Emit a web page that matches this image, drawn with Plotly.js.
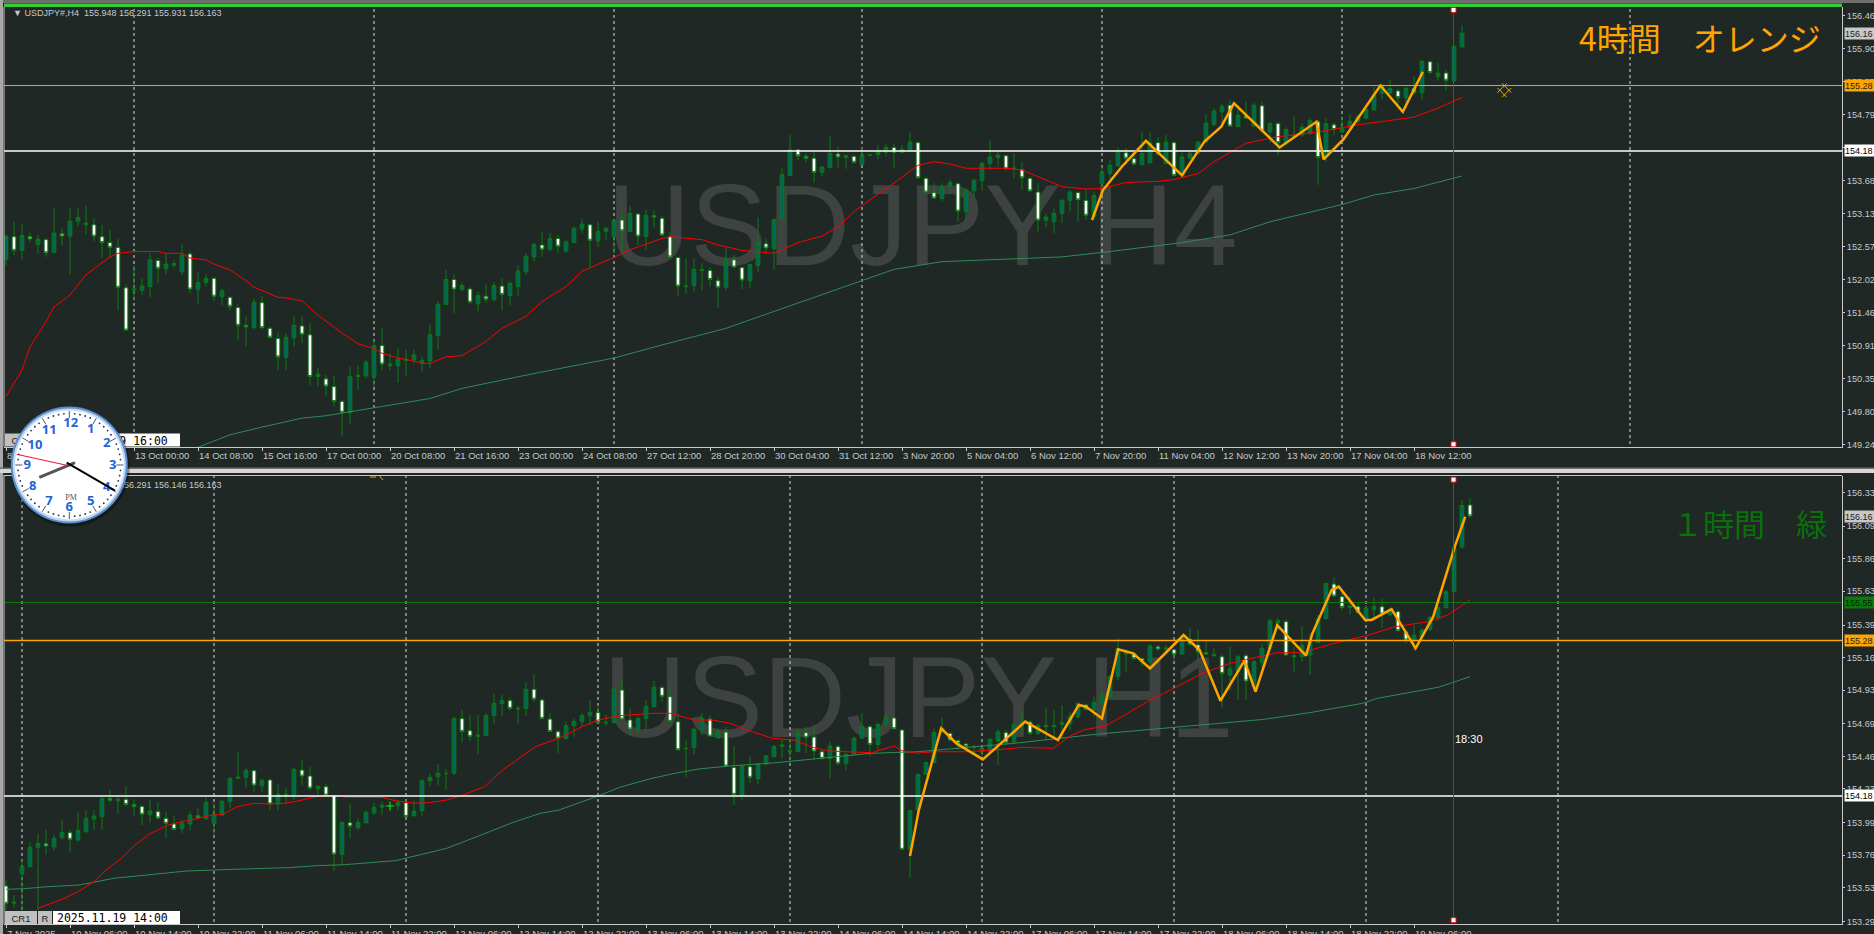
<!DOCTYPE html>
<html><head><meta charset="utf-8">
<script src="https://cdn.plot.ly/plotly-3.0.1.min.js"></script>
<style>html,body{margin:0;padding:0;background:#1f2824;overflow:hidden}#c{width:1874px;height:934px}</style>
</head><body><div id="c"></div>
<script>
const h4Open=[152.36,152.74,152.51,152.74,152.61,152.69,152.48,152.79,152.75,153.00,
152.94,152.94,152.74,152.64,152.56,151.88,151.84,151.84,151.90,152.34,
152.20,152.26,152.15,152.45,151.85,151.97,152.04,151.73,151.72,151.55,
151.25,151.21,151.63,151.20,151.03,150.71,151.04,151.24,151.09,150.39,
150.35,150.22,149.97,149.78,150.39,150.40,150.38,150.91,150.57,150.57,
150.66,150.67,150.61,150.65,151.08,151.60,152.02,151.85,151.86,151.61,
151.74,151.68,151.91,151.75,151.90,152.15,152.40,152.60,152.53,152.71,
152.50,152.64,152.87,152.94,152.67,152.83,152.74,153.02,152.83,153.12,
152.74,153.09,153.05,152.74,152.39,151.90,151.92,152.17,152.17,152.00,
151.89,152.35,152.22,152.00,152.25,152.62,152.54,153.03,153.77,154.20,
154.09,154.06,153.82,153.90,154.13,154.07,154.09,153.95,154.11,154.12,
154.16,154.24,154.16,154.19,154.32,153.72,153.48,153.38,153.59,153.63,
153.16,153.51,153.68,153.97,154.07,154.10,153.88,153.87,153.72,153.49,
153.01,152.99,153.13,153.35,153.48,153.35,153.08,153.63,153.80,153.93,
154.15,154.05,153.95,153.98,154.32,153.97,154.32,153.78,154.06,154.14,
154.33,154.63,154.84,154.95,154.59,154.77,154.60,154.94,154.50,154.64,
154.32,154.42,154.45,154.48,154.67,154.09,154.62,154.50,154.58,154.68,
154.73,154.87,155.15,155.15,155.19,155.08,155.23,155.16,155.68,155.43,
155.49,155.36,155.93];
const h4Close=[152.75,152.51,152.76,152.70,152.70,152.47,152.80,152.75,153.00,153.06,
152.97,152.75,152.64,152.56,151.89,151.17,151.86,151.91,152.35,152.21,
152.28,152.29,152.43,151.86,151.97,152.04,151.74,151.83,151.57,151.25,
151.22,151.64,151.21,151.05,150.72,151.05,151.25,151.10,150.39,150.43,
150.23,149.97,149.79,150.39,150.41,150.63,150.91,150.60,150.60,150.68,
150.68,150.75,150.66,151.09,151.60,152.02,151.86,151.92,151.64,151.75,
151.69,151.92,151.77,151.96,152.16,152.41,152.61,152.53,152.71,152.58,
152.65,152.88,152.95,152.68,152.83,152.88,153.01,152.84,153.13,152.75,
153.10,153.07,152.77,152.40,151.91,151.91,152.19,152.19,152.02,151.89,
152.36,152.23,152.01,152.27,152.64,152.55,153.03,153.78,154.20,154.10,
154.06,153.82,153.91,154.14,154.08,154.10,153.99,154.11,154.12,154.16,
154.24,154.16,154.21,154.33,153.73,153.49,153.39,153.58,153.65,153.17,
153.51,153.69,153.97,154.08,154.11,153.88,153.89,153.73,153.51,153.02,
153.07,153.13,153.35,153.49,153.36,153.10,153.43,153.82,153.94,154.15,
154.06,153.96,154.14,154.32,154.13,154.33,153.77,154.08,154.14,154.33,
154.65,154.85,154.93,154.60,154.78,154.73,154.95,154.52,154.64,154.32,
154.54,154.45,154.58,154.69,154.07,154.64,154.54,154.58,154.68,154.76,
154.88,155.12,155.29,155.23,155.08,155.23,155.16,155.69,155.50,155.49,
155.37,155.94,156.16];
const h4High=[152.75,153.00,152.95,152.81,152.77,152.72,153.22,152.88,153.22,153.23,
153.27,153.05,152.94,152.85,152.71,151.94,152.26,152.04,152.46,152.38,
152.45,152.35,152.61,152.49,152.14,152.12,152.06,151.87,151.74,151.60,
151.41,151.70,151.74,151.23,151.13,151.12,151.40,151.41,151.28,150.53,
150.42,150.40,150.00,150.56,150.58,150.67,151.00,151.20,150.78,150.86,
150.85,150.84,150.72,151.26,151.66,152.18,152.12,151.97,151.89,151.82,
151.94,151.98,152.04,151.97,152.26,152.46,152.64,152.81,152.80,152.77,
152.68,152.92,153.05,152.96,152.99,152.91,153.03,153.19,153.26,153.14,
153.20,153.19,153.08,152.81,152.40,152.38,152.38,152.29,152.22,152.06,
152.54,152.43,152.24,152.29,153.07,152.71,153.03,153.89,154.45,154.21,
154.14,154.17,153.92,154.42,154.25,154.12,154.11,154.25,154.13,154.28,
154.30,154.30,154.28,154.49,154.35,153.75,153.64,153.64,153.70,153.65,
153.55,153.72,154.00,154.37,154.17,154.11,154.14,154.00,153.75,153.64,
153.13,153.22,153.37,153.52,153.50,153.52,153.50,153.91,154.03,154.24,
154.23,154.14,154.51,154.49,154.41,154.45,154.35,154.15,154.17,154.34,
154.79,154.90,154.98,155.05,154.95,155.01,154.99,155.01,154.67,154.67,
154.58,154.76,154.64,154.73,154.71,154.73,154.66,154.76,154.79,154.79,
154.91,155.26,155.29,155.37,155.23,155.26,155.44,155.70,155.70,155.66,
155.54,155.95,156.29];
const h4Low=[152.26,152.43,152.36,152.64,152.46,152.40,152.46,152.60,152.11,152.91,
152.77,152.66,152.38,152.38,151.50,151.17,151.68,151.76,151.72,151.96,
152.10,152.21,152.10,151.78,151.60,151.90,151.66,151.59,151.50,150.99,
150.89,151.18,151.18,151.03,150.50,150.50,150.89,150.95,150.24,150.22,
150.05,149.88,149.38,149.60,150.16,150.36,150.22,150.50,150.49,150.28,
150.40,150.61,150.47,150.53,150.85,151.59,151.45,151.82,151.61,151.48,
151.62,151.65,151.50,151.59,151.73,152.10,152.32,152.40,152.49,152.46,
152.46,152.64,152.80,152.21,152.57,152.68,152.46,152.46,152.82,152.60,
152.52,152.88,152.75,152.40,151.74,151.78,151.82,151.84,151.90,151.54,
151.84,152.21,151.86,151.87,152.15,152.46,152.18,153.02,153.77,154.02,
153.98,153.64,153.75,153.89,153.89,153.88,153.97,153.95,154.10,154.04,
154.09,153.90,154.14,154.19,153.72,153.47,153.38,153.33,153.58,152.98,
153.02,153.41,153.52,153.86,153.92,153.86,153.72,153.52,153.50,152.82,
152.90,152.80,152.97,153.16,152.99,153.02,153.02,153.47,153.64,153.93,
153.95,153.95,153.93,153.97,154.09,153.96,153.75,153.77,154.05,154.14,
154.32,154.59,154.59,154.59,154.58,154.72,154.59,154.50,154.32,154.11,
154.28,154.39,154.42,154.45,153.61,154.00,154.45,154.48,154.53,154.64,
154.71,154.86,155.05,155.14,154.91,154.90,155.12,155.04,155.47,155.36,
155.19,155.35,155.92];

const h4RedX=[0,2,3,5,6,8,10,12,13,14,16,19,20,22,23,25,26,28,30,31,34,35,37,39,42,44,46,47,49,51,52,53,55,57,60,62,65,67,70,72,76,78,82,83,87,89,90,92,96,97,99,102,104,106,108,111,114,116,118,120,125,127,129,132,135,137,140,144,146,149,151,155,159,164,169,173,176,179,182];
const h4RedY=[150.05,150.50,150.89,151.31,151.56,151.76,152.10,152.29,152.40,152.46,152.49,152.49,152.46,152.46,152.38,152.35,152.28,152.18,152.00,151.89,151.72,151.71,151.66,151.42,151.12,150.94,150.86,150.78,150.70,150.65,150.61,150.61,150.72,150.74,150.98,151.20,151.40,151.65,151.90,152.16,152.39,152.52,152.71,152.74,152.69,152.60,152.57,152.51,152.46,152.52,152.64,152.75,152.91,153.16,153.36,153.64,153.94,154.00,153.96,153.89,153.89,153.86,153.75,153.58,153.54,153.55,153.65,153.67,153.70,153.80,154.00,154.31,154.42,154.50,154.62,154.70,154.75,154.90,155.08];
const h4GreenX=[24,28,32,37,40,46,53,57,66,76,82,90,111,117,132,138,147,153,158,167,171,176,182];
const h4GreenY=[149.20,149.41,149.54,149.69,149.73,149.86,150.02,150.19,150.44,150.70,150.92,151.20,152.19,152.32,152.40,152.49,152.64,152.77,152.99,153.28,153.44,153.55,153.76];
const h4ZigX=[135.75,137.1,139.5,142.5,147,149.8,151.9,153.5,159.2,163.8,164.7,167.2,171.8,174.6,177.1];
const h4ZigY=[153.02,153.52,153.92,154.35,153.77,154.34,154.59,154.98,154.24,154.67,154.04,154.38,155.28,154.84,155.51];

const h1Open=[153.542,153.42,153.627,153.679,153.816,153.842,153.82,153.884,153.92,153.868,
153.927,154.017,154.033,154.163,154.146,154.156,154.12,154.106,154.047,154.069,
154.021,153.981,153.948,153.981,154.04,154.021,153.986,154.045,154.14,154.305,
154.31,154.359,154.253,154.293,154.123,154.18,154.184,154.363,154.321,154.231,
154.245,154.182,153.767,153.99,153.955,153.99,154.061,154.10,154.108,154.111,
154.132,154.04,154.076,154.288,154.316,154.338,154.34,154.727,154.642,154.602,
154.609,154.75,154.835,154.855,154.795,154.80,154.935,154.859,154.724,154.635,
154.585,154.677,154.708,154.75,154.77,154.696,154.699,154.93,154.718,154.652,
154.727,154.812,154.947,154.883,154.705,154.515,154.522,154.652,154.724,154.592,
154.632,154.382,154.187,154.387,154.302,154.406,154.458,154.531,154.493,154.493,
154.628,154.597,154.493,154.444,154.529,154.411,154.475,154.59,154.67,154.545,
154.687,154.732,154.647,153.802,154.08,154.333,154.416,154.633,154.623,154.571,
154.548,154.524,154.493,154.493,154.571,154.628,154.562,154.687,154.703,154.623,
154.67,154.67,154.687,154.694,154.741,154.824,154.788,154.836,154.883,155.024,
155.185,155.19,155.152,155.131,155.237,155.218,155.216,155.185,155.291,155.249,
155.194,155.18,155.166,155.036,155.06,155.173,154.954,155.124,155.225,155.407,
155.414,155.173,155.166,155.178,155.265,155.435,155.68,155.591,155.515,155.52,
155.43,155.501,155.52,155.463,155.485,155.343,155.279,155.308,155.36,155.444,
155.513,155.626,155.942,156.24];
const h1Close=[153.42,153.427,153.679,153.816,153.844,153.825,153.88,153.922,153.873,153.936,
154.021,154.038,154.163,154.149,154.156,154.12,154.106,154.05,154.073,154.024,
153.986,153.943,153.988,154.045,154.026,154.135,154.052,154.142,154.305,154.312,
154.361,154.257,154.29,154.123,154.191,154.191,154.368,154.321,154.236,154.248,
154.186,153.769,153.993,153.965,153.993,154.064,154.10,154.113,154.109,154.132,
154.035,154.071,154.288,154.312,154.34,154.34,154.729,154.637,154.602,154.611,
154.75,154.835,154.857,154.80,154.80,154.935,154.866,154.729,154.637,154.59,
154.677,154.708,154.75,154.772,154.699,154.701,154.935,154.724,154.654,154.729,
154.814,154.949,154.885,154.708,154.507,154.517,154.652,154.729,154.604,154.637,
154.392,154.191,154.392,154.312,154.406,154.463,154.531,154.541,154.503,154.623,
154.595,154.498,154.446,154.534,154.411,154.475,154.588,154.67,154.545,154.687,
154.736,154.656,153.802,154.076,154.333,154.416,154.63,154.659,154.576,154.552,
154.529,154.529,154.517,154.581,154.633,154.557,154.687,154.701,154.623,154.68,
154.68,154.68,154.699,154.741,154.836,154.793,154.843,154.888,155.024,155.223,
155.194,155.154,155.131,155.242,155.22,155.227,155.183,155.296,155.253,155.201,
155.185,155.173,155.048,155.079,155.166,154.994,155.131,155.225,155.419,155.421,
155.178,155.166,155.249,155.272,155.437,155.685,155.596,155.515,155.525,155.478,
155.508,155.52,155.468,155.501,155.35,155.284,155.319,155.355,155.444,155.515,
155.626,155.94,156.237,156.163];
const h1High=[153.582,153.478,153.736,153.856,153.913,153.943,153.903,154.014,153.939,154.069,
154.08,154.08,154.168,154.222,154.18,154.245,154.156,154.116,154.156,154.132,
154.069,154.04,154.014,154.069,154.092,154.17,154.128,154.151,154.312,154.489,
154.375,154.368,154.305,154.305,154.262,154.241,154.382,154.434,154.387,154.257,
154.264,154.186,153.998,154.128,154.021,154.08,154.135,154.14,154.137,154.146,
154.14,154.146,154.298,154.34,154.406,154.37,154.741,154.788,154.753,154.753,
154.765,154.902,154.895,154.878,154.817,154.984,155.043,154.871,154.765,154.647,
154.705,154.729,154.765,154.859,154.812,154.753,154.953,155.013,154.80,154.741,
154.859,154.994,154.965,154.953,154.765,154.58,154.666,154.765,154.753,154.658,
154.67,154.529,154.399,154.458,154.416,154.47,154.541,154.581,154.576,154.666,
154.67,154.682,154.505,154.564,154.541,154.482,154.60,154.765,154.682,154.694,
154.765,154.741,154.652,154.08,154.34,154.423,154.659,154.736,154.628,154.581,
154.557,154.541,154.524,154.588,154.652,154.647,154.694,154.777,154.718,154.694,
154.807,154.788,154.824,154.777,154.84,154.836,154.883,154.93,155.036,155.296,
155.218,155.199,155.161,155.256,155.249,155.249,155.225,155.319,155.374,155.355,
155.284,155.225,155.185,155.237,155.178,155.19,155.142,155.26,155.437,155.442,
155.43,155.237,155.378,155.331,155.461,155.69,155.728,155.626,155.591,155.544,
155.532,155.586,155.577,155.515,155.496,155.355,155.39,155.367,155.454,155.532,
155.638,155.945,156.275,156.291];
const h1Low=[153.37,153.39,153.37,153.674,153.37,153.762,153.79,153.873,153.778,153.856,
153.915,153.939,153.939,154.135,154.052,154.109,154.038,153.974,153.99,154.01,
153.88,153.939,153.915,153.939,154.014,154.01,153.91,154.038,154.092,154.30,
154.241,154.21,154.21,154.08,154.076,154.123,154.151,154.257,154.222,154.186,
154.18,153.651,153.691,153.88,153.934,153.986,154.045,154.045,154.069,154.08,
154.033,154.033,154.033,154.25,154.257,154.227,154.328,154.557,154.571,154.477,
154.604,154.694,154.746,154.788,154.694,154.746,154.847,154.722,154.632,154.481,
154.58,154.60,154.67,154.682,154.694,154.675,154.694,154.718,154.611,154.618,
154.635,154.807,154.847,154.703,154.50,154.312,154.47,154.611,154.60,154.585,
154.387,154.116,154.146,154.269,154.264,154.397,154.449,154.446,154.411,154.493,
154.482,154.434,154.434,154.305,154.399,154.359,154.47,154.585,154.458,154.505,
154.67,154.652,153.797,153.604,154.076,154.328,154.411,154.623,154.564,154.505,
154.51,154.482,154.434,154.482,154.399,154.541,154.552,154.623,154.611,154.611,
154.576,154.581,154.588,154.647,154.729,154.784,154.741,154.718,154.878,154.996,
155.06,155.142,155.095,155.083,155.208,155.19,155.142,155.178,155.246,155.142,
155.178,155.166,154.80,154.93,154.859,154.859,154.93,155.095,155.213,155.355,
155.171,155.053,155.131,155.036,155.26,155.43,155.591,155.492,155.461,155.473,
155.421,155.437,155.367,155.449,155.343,155.26,155.213,155.284,155.35,155.421,
155.508,155.621,155.931,156.146];

const h1RedX=[4,7,9,11,12.3,14.4,16.1,17.9,20.2,22.5,25.4,27.2,28.9,31,32.7,34.8,36.5,38.8,41.2,42.6,47,48.7,51,52.8,55.1,56.9,59.8,62.1,64.4,66.2,69.1,72,74,76.7,80.7,83.1,86,88.3,90.5,92.9,95.8,98.5,100.8,102.9,108.2,111,112,113.8,115.9,120,123.5,127.1,130.9,133,134.7,137.4,139.5,143,146,149.5,153,156.6,158.9,161.9,166,170.1,173.6,177.8,180.2,183];
const h1RedY=[153.384,153.448,153.502,153.573,153.644,153.738,153.832,153.908,153.974,154.005,154.04,154.052,154.104,154.128,154.123,154.128,154.144,154.175,154.184,154.17,154.17,154.146,154.128,154.132,154.151,154.182,154.245,154.364,154.458,154.529,154.588,154.67,154.717,154.748,154.765,154.765,154.717,154.717,154.694,154.642,154.588,154.576,154.524,154.498,154.486,154.534,154.50,154.482,154.493,154.493,154.505,154.524,154.517,154.604,154.647,154.675,154.741,154.859,154.942,155.048,155.119,155.166,155.194,155.194,155.26,155.315,155.378,155.414,155.461,155.567];
const h1GreenX=[0,2.2,5.1,9.1,10.9,13.5,16.7,22.5,28.3,35.3,38.8,42.3,48.7,51.6,55.1,59.2,63.3,66.8,69.1,74,76.7,80.7,83.6,86.6,90.5,96.4,108.2,114,125.9,136.5,147.1,157.2,163,169.6,171.4,179,183];
const h1GreenY=[153.519,153.523,153.537,153.549,153.568,153.597,153.615,153.648,153.66,153.672,153.686,153.693,153.722,153.762,153.809,153.899,153.991,154.057,154.08,154.179,154.241,154.304,154.34,154.371,154.392,154.416,154.482,154.493,154.552,154.618,154.67,154.722,154.77,154.836,154.871,154.949,155.024];
const h1ZigX=[113,114.1,116.9,118.8,122.1,127.4,131.5,134.1,135,137,139,140.9,143,147.2,149.2,151.8,154.8,156.2,158.9,162.5,163.3,165.7,166.6,167.8,169.9,170.7,173.2,176.2,178.4,181.1,182.4];
const h1ZigY=[153.755,154.08,154.659,154.552,154.439,154.706,154.576,154.824,154.812,154.729,155.218,155.19,155.083,155.319,155.213,154.854,155.138,154.918,155.39,155.173,155.331,155.638,155.662,155.579,155.426,155.426,155.503,155.225,155.449,155.945,156.157];

const h4TickVals=[0,8,16,24,32,40,48,56,64,72,80,88,96,104,112,120,128,136,144,152,160,168,176];
const h4TickText=["8 Oct 16:00","10 Oct 04:00","13 Oct 00:00","14 Oct 08:00","15 Oct 16:00","17 Oct 00:00","20 Oct 08:00","21 Oct 16:00","23 Oct 00:00","24 Oct 08:00","27 Oct 12:00","28 Oct 20:00","30 Oct 04:00","31 Oct 12:00","3 Nov 20:00","5 Nov 04:00","6 Nov 12:00","7 Nov 20:00","11 Nov 04:00","12 Nov 12:00","13 Nov 20:00","17 Nov 04:00","18 Nov 12:00"];
const h1TickVals=h4TickVals;
const h1TickText=["7 Nov 2025","10 Nov 06:00","10 Nov 14:00","10 Nov 22:00","11 Nov 06:00","11 Nov 14:00","11 Nov 22:00","12 Nov 06:00","12 Nov 14:00","12 Nov 22:00","13 Nov 06:00","13 Nov 14:00","13 Nov 22:00","14 Nov 06:00","14 Nov 14:00","14 Nov 22:00","17 Nov 06:00","17 Nov 14:00","17 Nov 22:00","18 Nov 06:00","18 Nov 14:00","18 Nov 22:00","19 Nov 06:00"];
const h4PriceTicks=[156.46,155.90,155.35,154.79,154.24,153.68,153.13,152.57,152.02,151.46,150.91,150.35,149.80,149.24];
const h1PriceTicks=[156.33,156.09,155.86,155.63,155.39,155.16,154.93,154.69,154.46,154.23,153.99,153.76,153.53,153.29];
const h4Grid=[16,46,76,107,137,167,203];
const h1Grid=[2,26,50,74,98,122,146,170,194];
const lastPrice=156.16, orangeLevel=155.28, whiteLevel=154.18, greenLevel=155.55;
const crossX=180.94;

const W=1874,H=934,BG='#1f2824';
const px=x=>x/W, py=y=>1-y/H;
const idx=a=>a.map((_,i)=>i);
const yr4=[149.205,156.60], yr1=[153.271,156.449], xr=[-0.25,229.5];

function candle(o,h,l,c,xa,ya){return {type:'candlestick',x:idx(o),open:o,high:h,low:l,close:c,xaxis:xa,yaxis:ya,whiskerwidth:0,hoverinfo:'skip',
 increasing:{line:{color:'#0b7a12',width:1},fillcolor:'#00665c'},decreasing:{line:{color:'#0b7a12',width:1},fillcolor:'#ffffff'}};}
function line(x,y,color,w,xa,ya,dash){return {type:'scatter',mode:'lines',x,y,xaxis:xa,yaxis:ya,hoverinfo:'skip',line:{color,width:w,dash:dash||'solid'}};}
function cross(top,bot,xa,ya){return {type:'scatter',mode:'lines+markers',x:[crossX,crossX],y:[top,bot],xaxis:xa,yaxis:ya,hoverinfo:'skip',cliponaxis:false,
 line:{color:'#f01010',width:1},marker:{symbol:'square',size:5,color:'#ffffff',line:{color:'#f01010',width:1}}};}

const traces=[
 candle(h4Open,h4High,h4Low,h4Close,'x','y'),
 line(h4GreenX,h4GreenY,'#2e8b57',1,'x','y'),
 line(h4RedX,h4RedY,'#ff0000',1,'x','y'),
 line(xr,[orangeLevel,orangeLevel],'#e8a428',1,'x','y'),
 line(xr,[whiteLevel,whiteLevel],'#ffffff',1.5,'x','y'),
 line(h4ZigX,h4ZigY,'#ffa500',2.5,'x','y'),
 cross(156.55,149.25,'x','y'),
 {type:'scatter',mode:'markers',x:[187.3],y:[155.2],xaxis:'x',yaxis:'y',hoverinfo:'skip',marker:{symbol:'hash-open',size:13,angle:45,color:'#ffa500',line:{color:'#ffa500',width:1}}},
 candle(h1Open,h1High,h1Low,h1Close,'x2','y2'),
 {type:'scatter',mode:'markers',x:[48],y:[154.109],xaxis:'x2',yaxis:'y2',hoverinfo:'skip',marker:{symbol:'cross-thin-open',size:6,color:'#00e000',line:{color:'#00e000',width:1}}},
 line(h1GreenX,h1GreenY,'#2e8b57',1,'x2','y2'),
 line(h1RedX,h1RedY,'#ff0000',1,'x2','y2'),
 line(xr,[greenLevel,greenLevel],'#0f7a0f',1,'x2','y2'),
 line(xr,[orangeLevel,orangeLevel],'#ffa500',1.5,'x2','y2'),
 line(xr,[whiteLevel,whiteLevel],'#ffffff',1.5,'x2','y2'),
 line(h1ZigX,h1ZigY,'#ffa500',2.5,'x2','y2'),
 cross(156.42,153.30,'x2','y2')
];

const shapes=[];
function rect(x0,y0,x1,y1,fill,extra){shapes.push(Object.assign({type:'rect',xref:'paper',yref:'paper',x0:px(x0),x1:px(x1),y0:py(y1),y1:py(y0),fillcolor:fill,line:{width:0},layer:'above'},extra||{}));}
function seg(x0,y0,x1,y1,color,w,extra){shapes.push(Object.assign({type:'line',xref:'paper',yref:'paper',x0:px(x0),x1:px(x1),y0:py(y0),y1:py(y1),line:{color,width:w},layer:'above'},extra||{}));}
function circle(cx,cy,r,fill,lc,lw){shapes.push({type:'circle',xref:'paper',yref:'paper',x0:px(cx-r),x1:px(cx+r),y0:py(cy+r),y1:py(cy-r),fillcolor:fill,line:{color:lc||fill,width:lw||0},layer:'above'});}
function lab(x0,y0,x1,y1,fill,text,size,color,family,pos,weight){rect(x0,y0,x1,y1,fill,{label:{text,font:{size,color,family,weight:weight||'normal'},textposition:pos||'middle center',padding:1}});}
const SANS='"Liberation Sans",Arial,sans-serif', MONO='"DejaVu Sans Mono",monospace';

// watermarks beneath the candles
shapes.push({type:'rect',xref:'paper',yref:'paper',x0:px(600),x1:px(1245),y0:py(269),y1:py(159),fillcolor:'rgba(0,0,0,0)',line:{width:0},layer:'below',label:{text:'USDJPY H4',font:{size:115,color:'#3e4341',family:SANS},textposition:'middle center'}});
shapes.push({type:'rect',xref:'paper',yref:'paper',x0:px(600),x1:px(1237),y0:py(741),y1:py(631),fillcolor:'rgba(0,0,0,0)',line:{width:0},layer:'below',label:{text:'USDJPY H1',font:{size:115,color:'#3e4341',family:SANS},textposition:'middle center'}});
// dashed grid
h4Grid.forEach(v=>shapes.push({type:'line',xref:'x',yref:'paper',x0:v,x1:v,y0:py(444),y1:py(8),line:{color:'#d8d8d8',width:1,dash:'3px,3px'},layer:'below'}));
h1Grid.forEach(v=>shapes.push({type:'line',xref:'x2',yref:'paper',x0:v,x1:v,y0:py(922),y1:py(476),line:{color:'#d8d8d8',width:1,dash:'3px,3px'},layer:'below'}));
// window chrome
rect(0,0,W,3,'#6e6e6e');
rect(0,0,3,H,'#a8a8a8');
rect(4,3.5,1842,7,'#32cd32');
rect(0,467.5,W,469,'#6e6e6e');
rect(0,469,W,473,'#d6d6d6');
seg(4,475.5,1842,475.5,'#c8c8c8',1);
seg(4,7,4,447,'#c8c8c8',1);
seg(4,475,4,924,'#c8c8c8',1);
// small orange object at the top of the lower pane
seg(370,477,376,477,'#ffa500',1); seg(379,475.5,383,480,'#ffa500',1);
// headers
lab(9,6,240,18,'rgba(0,0,0,0)','▼ USDJPY#,H4  155.948 156.291 155.931 156.163',9,'#c8c8c8',SANS,'middle left');
lab(9,478,240,490,'rgba(0,0,0,0)','▼ USDJPY#,H1  156.240 156.291 156.146 156.163',9,'#c8c8c8',SANS,'middle left');
// date boxes
[[433.5,'2025.11.19 16:00'],[911,'2025.11.19 14:00']].forEach(([y,t])=>{
 lab(5,y,37,y+13,'#c0c0c0','CR1',9.5,'#222222',SANS);
 lab(38,y,52,y+13,'#c0c0c0','R',9.5,'#222222',SANS);
 lab(53,y,180,y+13,'#ffffff',t,11.5,'#000000',MONO,'middle left');
});
// clock
const CX=69.3,CY=465;
circle(CX+1,CY+2,59.5,'rgba(0,0,0,0.35)');
circle(CX,CY,58.5,'#5b8fd0');
circle(CX,CY,56.5,'#c4daf2');
circle(CX,CY,54.5,'#ffffff');
for(let m=0;m<60;m++){const a=m*Math.PI/30,s=Math.sin(a),c=Math.cos(a);
 if(m%5===0) seg(CX+47*s,CY-47*c,CX+54*s,CY-54*c,'#555566',1);
 else circle(CX+51.5*s,CY-51.5*c,0.9,'#1c2f66');}
[['12',70.7,423.3],['1',90.7,429.3],['2',106.7,443.3],['3',112.7,465.3],['4',106.7,487.3],['5',90.7,500.7],['6',69.3,506.7],['7',49,500.7],['8',32.7,486],['9',27.3,465.3],['10',35,445.3],['11',49.3,430]].forEach(([t,x,y])=>lab(x-9,y-8,x+9,y+8,'rgba(0,0,0,0)',t,13,'#1f63d6','"Noto Sans",sans-serif','middle center','bold'));
lab(58,490,84,502,'rgba(0,0,0,0)','PM',8,'#555555','"Liberation Serif",serif');
seg(39.3,477.3,75,462.7,'#555555',3);
seg(66.7,462.7,115,490.7,'#000000',2);
seg(16.7,454.3,70,466,'#f01030',1);

const annotations=[];
function tag(y,ya,text,bg,color){annotations.push({xref:'paper',yref:ya,x:px(1844),y,xanchor:'left',yanchor:'middle',text,showarrow:false,bgcolor:bg,width:30,height:11,align:'left',borderpad:0,font:{size:9,color,family:SANS}});}
tag(lastPrice,'y','156.16','#c8c8c8','#222222'); tag(orangeLevel,'y','155.28','#ffa500','#222222'); tag(whiteLevel,'y','154.18','#ffffff','#000000');
tag(lastPrice,'y2','156.16','#c8c8c8','#222222'); tag(greenLevel,'y2','155.55','#0a7a0a','#062006'); tag(orangeLevel,'y2','155.28','#ffa500','#222222'); tag(whiteLevel,'y2','154.18','#ffffff','#000000');
annotations.push({xref:'paper',yref:'paper',x:px(1700),y:py(37),xanchor:'center',yanchor:'middle',text:'4時間　オレンジ',showarrow:false,font:{size:32,color:'#ffa500',family:'"Noto Sans CJK JP",sans-serif'}});
annotations.push({xref:'paper',yref:'paper',x:px(1749),y:py(522),xanchor:'center',yanchor:'middle',text:'１時間　緑',showarrow:false,font:{size:31,color:'#0a700a',family:'"Noto Sans CJK JP",sans-serif'}});
annotations.push({xref:'paper',yref:'paper',x:px(1453),y:py(738.7),xanchor:'left',yanchor:'middle',text:'18:30',showarrow:false,font:{size:11,color:'#ffffff',family:SANS}});

function xaxis(vals,text,anchor){return {domain:[px(4),px(1842)],range:xr,anchor,showgrid:false,zeroline:false,showline:true,linecolor:'#c8c8c8',linewidth:1,ticks:'outside',ticklen:3,tickcolor:'#c8c8c8',tickvals:vals,ticktext:text,ticklabelposition:'outside right',ticklabeloverflow:'allow',tickangle:0,tickfont:{size:9.5,color:'#c8c8c8',family:SANS},rangeslider:{visible:false},fixedrange:true};}
function yaxis(dom,range,vals,anchor){return {domain:dom,range,anchor,side:'right',showgrid:false,zeroline:false,showline:true,linecolor:'#c8c8c8',linewidth:1,ticks:'outside',ticklen:2,tickcolor:'#c8c8c8',tickvals:vals,ticktext:vals.map(v=>v.toFixed(2)),ticklabeloverflow:'allow',tickfont:{size:9.2,color:'#c8c8c8',family:SANS},fixedrange:true};}
const layout={width:W,height:H,margin:{l:0,r:0,t:0,b:0},paper_bgcolor:BG,plot_bgcolor:BG,showlegend:false,boxgap:0.34,dragmode:false,hovermode:false,
 xaxis:xaxis(h4TickVals,h4TickText,'y'),
 xaxis2:xaxis(h1TickVals,h1TickText,'y2'),
 yaxis:yaxis([py(447),py(7)],yr4,h4PriceTicks,'x'),
 yaxis2:yaxis([py(924.3),py(475.5)],yr1,h1PriceTicks,'x2'),
 shapes,annotations};
Plotly.newPlot('c',traces,layout,{displayModeBar:false,staticPlot:true});
</script></body></html>
